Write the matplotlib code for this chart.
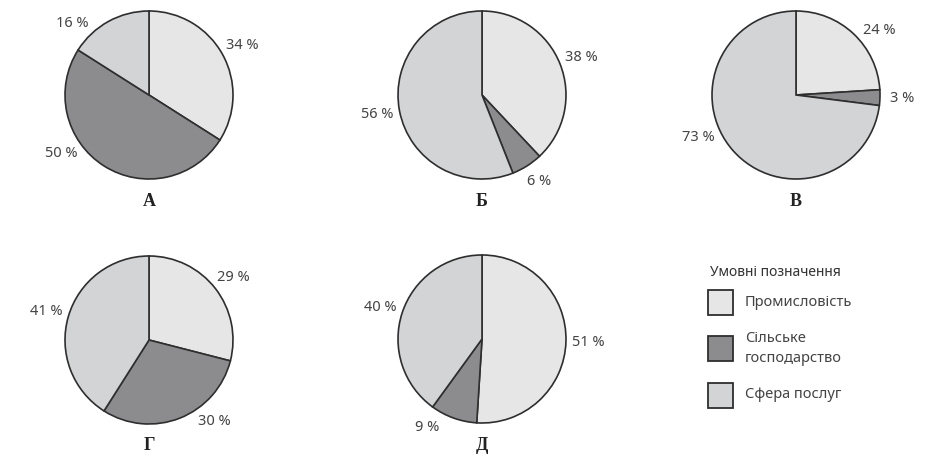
import matplotlib
matplotlib.use("Agg")
import matplotlib.pyplot as plt
import numpy as np
from matplotlib.patches import Rectangle

plt.rcParams['font.family'] = ['Noto Sans', 'DejaVu Sans']

# Data: share of sectors (Промисловість, Сільське господарство, Сфера послуг)
sectors = ["Промисловість", "Сільське\nгосподарство", "Сфера послуг"]
chart_names = ["А", "Б", "В", "Г", "Д"]
shares_a = [34, 50, 16]
shares_b = [38, 6, 56]
shares_v = [24, 3, 73]
shares_g = [29, 30, 41]
shares_d = [51, 9, 40]
all_shares = [shares_a, shares_b, shares_v, shares_g, shares_d]

COLORS = ["#e6e6e6", "#8c8c8e", "#d3d4d6"]
EDGE = "#2e2e2e"
TEXT = "#444444"
W, H = 940, 475
R = 84
# pie centres in pixel coords (y from top)
centres = [(149, 95), (482, 95), (796, 95), (149, 340), (482, 339)]
# small angular nudges (deg) for label placement, as in the original layout
nudges = [(0, -23, 17), (0, 0, 0), (-8, 0, -17), (0, 16, 0), (0, -11, 0)]

fig = plt.figure(figsize=(W / 100, H / 100), dpi=100)
ax = fig.add_axes([0, 0, 1, 1])

for name, shares, (cx, cy), nd in zip(chart_names, all_shares, centres, nudges):
    c = (cx, H - cy)
    ax.pie(shares, colors=COLORS, startangle=90, counterclock=False,
           center=c, radius=R, frame=True,
           wedgeprops=dict(edgecolor=EDGE, linewidth=1.2))
    # percentage labels outside each wedge
    start = 90.0
    for v, dn in zip(shares, nd):
        mid = np.deg2rad(start - v / 100 * 360 / 2 + dn)
        start -= v / 100 * 360
        lx = c[0] + 1.27 * R * np.cos(mid)
        ly = c[1] + 1.22 * R * np.sin(mid)
        ax.text(lx, ly, f"{v} %", ha="center", va="center",
                fontsize=10.5, color=TEXT)
    ax.text(c[0], c[1] - R - 22, name, ha="center", va="center",
            fontsize=13, weight="bold", family="Liberation Serif",
            color="#222222")

ax.set_xlim(0, W)
ax.set_ylim(0, H)
ax.set_aspect("equal")
ax.axis("off")

# legend
ax.text(710, H - 272, "Умовні позначення", ha="left", va="center",
        fontsize=10, color="#333333")
for i, (lab, col) in enumerate(zip(sectors, COLORS)):
    yc = H - (302 + i * 46.5)
    ax.add_patch(Rectangle((708, yc - 12.5), 25, 25, facecolor=col,
                           edgecolor=EDGE, linewidth=1.3))
    ax.text(745, yc, lab, ha="left", va="center", fontsize=10.5,
            color=TEXT, linespacing=1.5)

fig.savefig("out.png", dpi=100, facecolor="white")
